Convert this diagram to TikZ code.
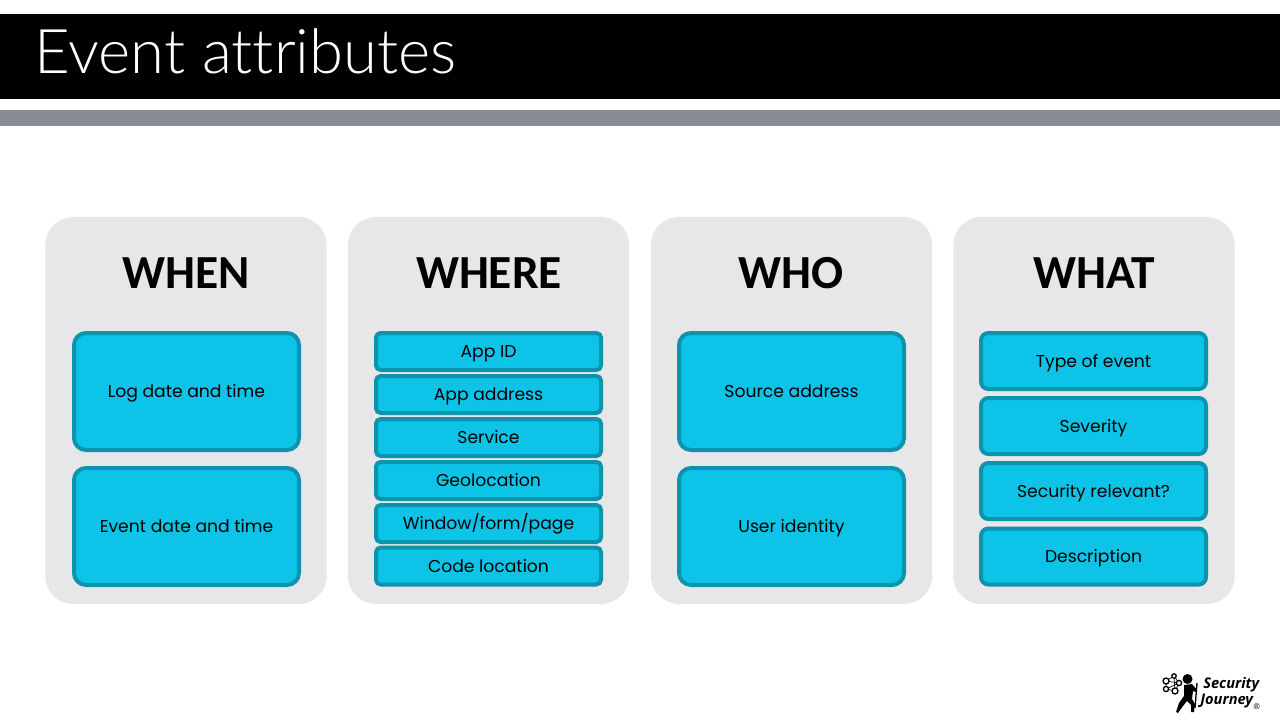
\documentclass[tikz,border=0pt]{standalone}
\usepackage{fontspec}
\setmainfont{Poppins}
\newfontfamily\titlefont[Ligatures=NoCommon]{Lato Light}
\newfontfamily\headfont{Carlito}
\newfontfamily\logofont{Open Sans}
\definecolor{panelgray}{HTML}{E7E7E9}
\definecolor{bargray}{HTML}{898B94}
\definecolor{itemfill}{HTML}{0EC3E8}
\definecolor{itemline}{HTML}{0E93AD}
\tikzset{
  panel/.style={fill=panelgray, rounded corners=21pt, minimum width=211pt, minimum height=290.25pt},
  heading/.style={font=\headfont\fontsize{35.6}{35.6}\selectfont\bfseries, text=black},
  item/.style={draw=itemline, fill=itemfill, line width=3pt, minimum width=168.75pt, text=black,
    text height=11pt, text depth=1.5pt, font=\fontsize{12.9}{16}\selectfont},
  tallitem/.style={item, rounded corners=9pt, minimum height=87.75pt},
  rowitem/.style={item, rounded corners=3.5pt, minimum height=27.75pt},
  miditem/.style={item, rounded corners=5.5pt, minimum height=42pt},
}
\begin{document}
\begin{tikzpicture}[x=0.75pt, y=-0.75pt]

\useasboundingbox (0, 0) rectangle (1280, 720);

	%title bars
\fill [black] (0, 14) rectangle (1280, 99);
\fill [bargray] (0, 110) rectangle (1280, 126);
\node [anchor=west, text=white, font=\titlefont\fontsize{46.2}{46.2}\selectfont] (title) at (30, 51) {Event attributes};

	%panels
\node [panel] (whenpanel) at (186, 410.5) {};
\node [panel] (wherepanel) at (488.5, 410.5) {};
\node [panel] (whopanel) at (791.5, 410.5) {};
\node [panel] (whatpanel) at (1094, 410.5) {};

	%headings
\node [heading] (whenhead) at (186, 273) {WHEN};
\node [heading] (wherehead) at (489, 273) {WHERE};
\node [heading] (whohead) at (791.5, 273) {WHO};
\node [heading] (whathead) at (1094, 273) {WHAT};

	%when
\node [tallitem] (logdate) at (186.5, 391.5) {Log date and time};
\node [tallitem] (eventdate) at (186.5, 526.5) {Event date and time};

	%where
\node [rowitem] (appid) at (488.5, 351.5) {App ID};
\node [rowitem] (appaddress) at (488.5, 394.5) {App address};
\node [rowitem] (service) at (488.5, 437.5) {Service};
\node [rowitem] (geolocation) at (488.5, 480.5) {Geolocation};
\node [rowitem] (windowform) at (488.5, 523.5) {Window/form/page};
\node [rowitem] (codelocation) at (488.5, 566) {Code location};

	%who
\node [tallitem] (sourceaddress) at (791.5, 391.5) {Source address};
\node [tallitem] (useridentity) at (791.5, 526.5) {User identity};

	%what
\node [miditem] (typeofevent) at (1093.5, 361) {Type of event};
\node [miditem] (severity) at (1093.5, 426) {Severity};
\node [miditem] (securityrelevant) at (1093.5, 491) {Security relevant?};
\node [miditem] (description) at (1093.5, 556.5) {Description};

	%logo network
\draw [line width=0.5pt] (1166, 681) -- (1174, 676) -- (1179, 683) -- (1175, 691) -- (1166, 689) -- (1166, 681) -- (1179, 683) -- (1166, 689) (1174, 676) -- (1175, 691);
\draw [line width=1pt, fill=white] (1166, 681) circle (3) (1174, 676) circle (2.2) (1179, 683) circle (2.6) (1166, 689) circle (2.6) (1175, 691) circle (3);

	%logo hiker
\fill [black] (1187.5, 679) circle (5);
\fill [black] (1184, 685) -- (1192, 684) -- (1197, 690) -- (1196, 692) -- (1193, 691) -- (1192, 699) -- (1195, 704) -- (1194, 712) -- (1191, 712) -- (1191, 705) -- (1187, 701) -- (1183, 706) -- (1178, 713) -- (1176, 712) -- (1179, 703) -- (1184, 696) -- cycle;
\draw [line width=1pt] (1197, 683) -- (1195, 708);

	%logo text
\node [anchor=west, inner sep=0pt, font=\logofont\fontsize{11}{11}\selectfont\bfseries\itshape] (logotop) at (1203, 685) {Security};
\node [anchor=west, inner sep=0pt, font=\logofont\fontsize{11}{11}\selectfont\bfseries\itshape] (logobottom) at (1200, 701) {Journey};
\node [anchor=west, inner sep=0pt, font=\logofont\fontsize{6}{6}\selectfont] (logomark) at (1253, 707) {®};

\end{tikzpicture}
\end{document}
